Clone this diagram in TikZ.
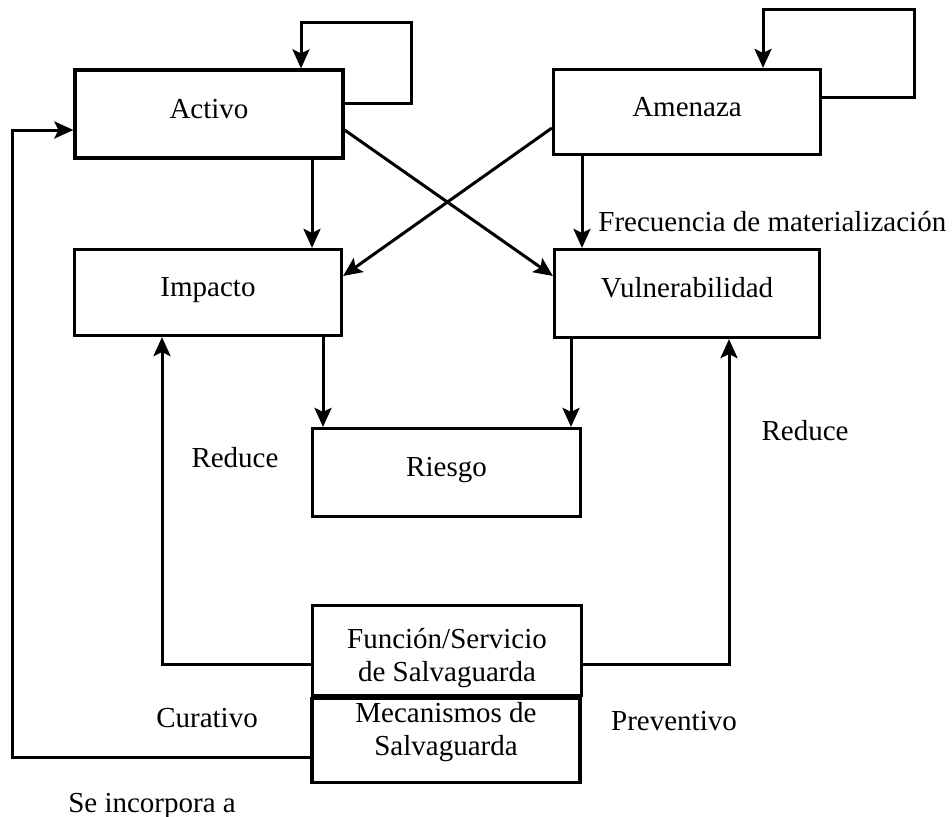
\documentclass[tikz,border=0pt]{standalone}
\usepackage{fontspec}
\setmainfont{Liberation Serif}
\usetikzlibrary{arrows.meta}
\begin{document}
\begin{tikzpicture}[x=0.5pt,y=-0.5pt,
  every node/.style={font=\fontsize{14.5pt}{16.75pt}\selectfont},
  box/.style={draw, line width=1.6pt, inner sep=0pt, text height=10pt, text depth=6pt},
  arr/.style={line width=1.5pt, -{Stealth[length=9.5pt,width=8.5pt,inset=2pt]}},
  lbl/.style={inner sep=0pt, anchor=base}
]
\useasboundingbox (0,0) rectangle (952,816);

% boxes
\node[box, minimum width=134pt, minimum height=44pt] (act) at (209,114) {Activo};
\node[box, minimum width=133.5pt, minimum height=42.5pt] (ame) at (687,112) {Amenaza};
\node[box, minimum width=133.5pt, minimum height=43pt] (imp) at (208,292.5) {Impacto};
\node[box, minimum width=132.5pt, minimum height=44pt] (vul) at (687,293.5) {Vulnerabilidad};
\node[box, minimum width=134pt, minimum height=44pt] (ris) at (446.5,472.5) {Riesgo};
\node[box, minimum width=134pt, minimum height=42pt] (mec) at (446,740.5) {};
\node[box, minimum width=134.5pt, minimum height=45pt, line width=1.8pt] (fun) at (447,650.5) {};
\node[align=center, inner sep=0pt] (funtxt) at (447,658) {Función/Servicio\\de Salvaguarda};
\node[align=center, inner sep=0pt] (mectxt) at (446,732) {Mecanismos de\\Salvaguarda};

% self loops
\draw[arr] ([yshift=5.5pt]act.east) -| (411,22) -| ([xshift=46pt]act.north);
\draw[arr] ([yshift=7.5pt]ame.east) -| (914,9) -| ([xshift=38pt]ame.north);

% vertical arrows
\coordinate (a1) at ([xshift=51.5pt]act.south);
\draw[arr] (a1) -- (a1 |- imp.north);
\coordinate (a2) at ([xshift=-52.5pt]ame.south);
\draw[arr] (a2) -- (a2 |- vul.north);
\coordinate (a3) at ([xshift=57.5pt]imp.south);
\draw[arr] (a3) -- (a3 |- ris.north);
\coordinate (a4) at ([xshift=-58pt]vul.south);
\draw[arr] (a4) -- (a4 |- ris.north);

% crossing arrows
\draw[arr] ([yshift=-8pt]act.east) -- ([yshift=8.75pt]vul.west);
\draw[arr] ([yshift=-8pt]ame.west) -- ([yshift=8.25pt]imp.east);

% safeguard arrows
\draw[arr] ([yshift=-6.75pt]fun.west) -| ([xshift=-23pt]imp.south);
\draw[arr] ([yshift=-6.75pt]fun.east) -| ([xshift=21pt]vul.south);
\draw[arr] ([yshift=-8.25pt]mec.west) -| (12,130) -- ([yshift=-8pt]act.west);

% labels
\node[lbl, anchor=base west] (frec) at (598,231) {Frecuencia de materialización};
\node[lbl] (red1) at (235,467) {Reduce};
\node[lbl] (red2) at (805,440) {Reduce};
\node[lbl] (cur) at (207,727) {Curativo};
\node[lbl] (pre) at (674,730) {Preventivo};
\node[lbl] (seinc) at (152,812) {Se incorpora a};
\end{tikzpicture}
\end{document}
